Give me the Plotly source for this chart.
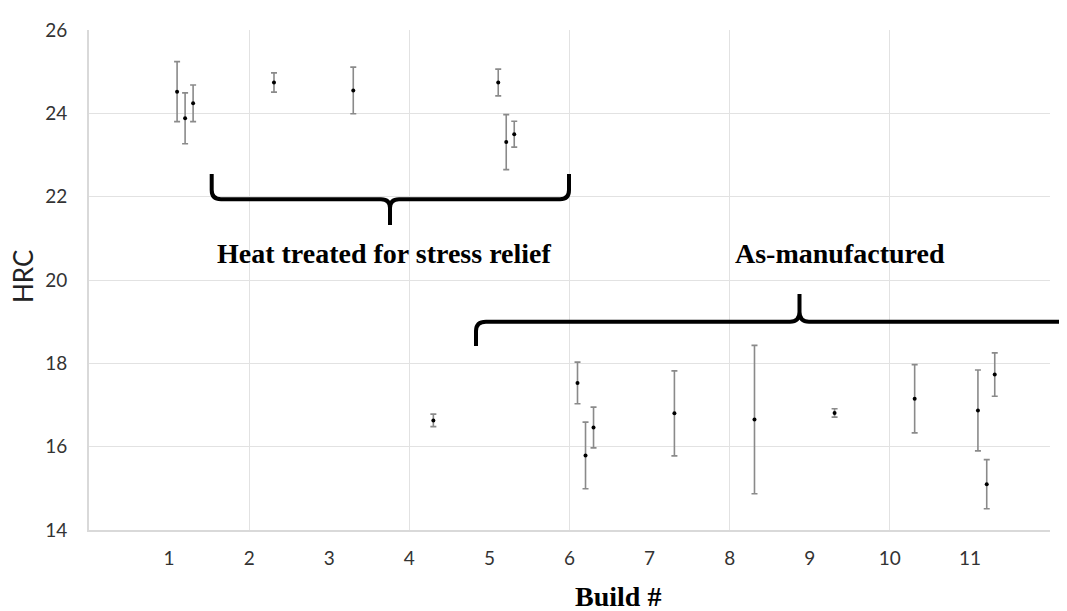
import plotly.graph_objects as go

# ---- data ----
build_labels = ["1", "2", "3", "4", "5", "6", "7", "8", "9", "10", "11"]
build_ticks = [1, 2, 3, 4, 5, 6, 7, 8, 9, 10, 11]
x_pos = [1.10, 1.20, 1.30, 2.31, 3.30, 4.30, 5.11, 5.21, 5.31, 6.10, 6.20, 6.30,
         7.31, 8.31, 9.31, 10.31, 11.10, 11.21, 11.31]
hrc_mean = [24.52, 23.88, 24.24, 24.74, 24.55, 16.63, 24.74, 23.31, 23.50, 17.53,
            15.79, 16.46, 16.80, 16.65, 16.81, 17.15, 16.87, 15.10, 17.73]
hrc_err = [0.72, 0.61, 0.44, 0.23, 0.56, 0.15, 0.32, 0.66, 0.31, 0.50,
           0.80, 0.49, 1.02, 1.78, 0.10, 0.82, 0.97, 0.59, 0.52]
grid_x = [0, 2, 4, 6, 8, 10, 12]

# page body has an 8px default margin; size the figure so it fits the window
OFF = 8
W, H = 1067 - OFF, 611 - OFF
PL, PR, PT, PB = 89, 1050, 30, 530          # plot area in window pixels
ML, MR, MT, MB = PL - OFF, W - (PR - OFF), PT - OFF, H - (PB - OFF)
PW, PH = W - ML - MR, H - MT - MB


def px_x(px):
    return (px - PL) / PW


def px_y(py):
    return (PB - py) / PH


def p(px, py):
    return f"{px_x(px):.5f},{px_y(py):.5f}"


brace1 = (f"M {p(211.7,174)} L {p(211.7,190)} Q {p(211.7,199.3)} {p(221,199.3)} "
          f"L {p(381,199.3)} Q {p(390,199.3)} {p(390,208)} L {p(390,225)} "
          f"L {p(390,208)} Q {p(390,199.3)} {p(399,199.3)} L {p(560,199.3)} "
          f"Q {p(569,199.3)} {p(569,190)} L {p(569,174)}")
brace2 = (f"M {p(476,346)} L {p(476,331)} Q {p(476,321.7)} {p(486,321.7)} "
          f"L {p(790,321.7)} Q {p(799.5,321.7)} {p(799.5,312)} L {p(799.5,294)} "
          f"L {p(799.5,312)} Q {p(799.5,321.7)} {p(809,321.7)} L {p(1067,321.7)}")

fig = go.Figure()
fig.add_trace(go.Scatter(
    x=x_pos, y=hrc_mean, mode="markers",
    marker=dict(color="black", size=4),
    error_y=dict(type="data", array=hrc_err, visible=True,
                 color="#8a8a8a", thickness=1.6, width=3),
    showlegend=False, cliponaxis=False,
))

serif = "Liberation Serif, Times New Roman, serif"
fig.update_layout(
    width=W, height=H,
    margin=dict(l=ML, r=MR, t=MT, b=MB, pad=0),
    paper_bgcolor="white", plot_bgcolor="white",
    font=dict(family="Lato, sans-serif", size=20, color="#333333"),
    xaxis=dict(
        range=[0, 12], tickmode="array", tickvals=build_ticks, ticktext=build_labels,
        showgrid=False, zeroline=False, automargin=False,
        showline=True, linecolor="#d9d9d9", linewidth=2,
        ticks="outside", ticklen=10, tickcolor="rgba(0,0,0,0)",
        minor=dict(tickvals=grid_x, showgrid=True, gridcolor="#e2e2e2", gridwidth=1, ticks=""),
        tickfont=dict(size=19, color="#333333"),
    ),
    yaxis=dict(
        range=[14, 26], dtick=2, tick0=14,
        showgrid=True, gridcolor="#e2e2e2", gridwidth=1, zeroline=False, automargin=False,
        showline=True, linecolor="#d9d9d9", linewidth=2,
        ticks="outside", ticklen=16, tickcolor="rgba(0,0,0,0)",
        tickfont=dict(size=19, color="#333333"),
    ),
    shapes=[
        dict(type="path", xref="paper", yref="paper", path=brace1,
             line=dict(color="black", width=4)),
        dict(type="path", xref="paper", yref="paper", path=brace2,
             line=dict(color="black", width=4)),
    ],
    annotations=[
        dict(text="HRC", xref="paper", yref="paper", x=px_x(23), y=px_y(277),
             xanchor="center", yanchor="middle", textangle=-90, showarrow=False,
             font=dict(family="Lato, sans-serif", size=26, color="#222222")),
        dict(text="<b>Heat treated for stress relief</b>", xref="paper", yref="paper",
             x=px_x(384), y=px_y(254), xanchor="center", yanchor="middle", showarrow=False,
             font=dict(family=serif, size=28, color="black")),
        dict(text="<b>As-manufactured</b>", xref="paper", yref="paper",
             x=px_x(840), y=px_y(254), xanchor="center", yanchor="middle", showarrow=False,
             font=dict(family=serif, size=28, color="black")),
        dict(text="<b>Build #</b>", xref="paper", yref="paper",
             x=px_x(618), y=px_y(596), xanchor="center", yanchor="middle", showarrow=False,
             font=dict(family=serif, size=28, color="black")),
    ],
)

fig.write_html("out.html")
